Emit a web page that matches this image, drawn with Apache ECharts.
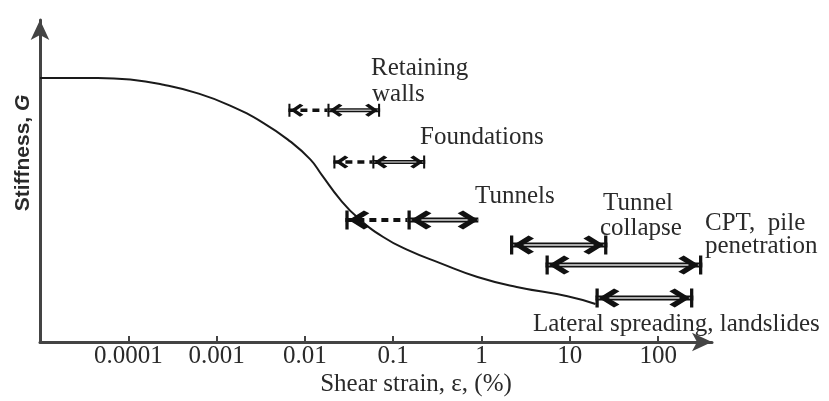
<!DOCTYPE html>
<html>
<head>
<meta charset="utf-8">
<script src="https://cdn.jsdelivr.net/npm/echarts@6/dist/echarts.min.js"></script>
<style>
  html, body { margin: 0; padding: 0; background: #fff; }
  #chart { width: 829px; height: 401px; }
</style>
</head>
<body>
<div id="chart"></div>
<script>
// ---- Data ----
// Stiffness curve (x = shear strain %, y = relative stiffness, arbitrary units 0-100)
const strain    = [1e-5, 4.5e-5, 1.05e-4, 2.5e-4, 6e-4, 1.4e-3, 3.4e-3, 6.8e-3, 0.0115, 0.0155, 0.025, 0.04, 0.077, 0.145, 0.34, 0.9, 2.5, 9.4, 19.5];
const stiffness = [82, 82, 81.5, 79.9, 77.3, 73.5, 68.0, 62.3, 56.7, 51.9, 44.3, 38.5, 32.6, 28.6, 24.5, 20.2, 17.1, 14.2, 11.8];

// Tick labels of the strain axis
const tickValues = [1e-4, 1e-3, 1e-2, 1e-1, 1, 10, 100];
const tickLabels = ['0.0001', '0.001', '0.01', '0.1', '1', '10', '100'];

// Strain ranges of applications
const rangeNames  = ['Retaining walls', 'Foundations', 'Tunnels', 'Tunnel collapse', 'CPT, pile penetration', 'Lateral spreading, landslides'];
const rangeLevel  = [72.0, 55.9, 37.9, 30.1, 23.9, 13.7];
const dashedFrom  = [0.0065, 0.021, 0.0287, null, null, null];
const solidFrom   = [0.018, 0.058, 0.145, 2.1, 5.3, 19.5];
const solidTo     = [0.071, 0.23, 0.92, 26.6, 316, 250];

// ---- Styles ----
const LEFT_CAP   = 'path://M0,0 H3 V20 H0 Z M17,0 L3,10 L17,20 L22,17 L12,10 L22,3 Z';
const RIGHT_CAP  = 'path://M19,0 H22 V20 H19 Z M5,0 L19,10 L5,20 L0,17 L10,10 L0,3 Z';
const RIGHT_HEAD = 'path://M5,0 L19,10 L5,20 L0,17 L10,10 L0,3 Z';
const rightBar   = [true, true, false, true, true, true];
const bigArrow   = [false, false, true, true, true, true];

const SERIF = '"Liberation Serif", "Times New Roman", serif';
const TXT = '#2a2a2a';

const series = [];
series.push({
  type: 'line',
  data: strain.map((s, i) => [s, stiffness[i]]),
  smooth: 0.5,
  showSymbol: false,
  lineStyle: { color: '#1a1a1a', width: 2 },
  silent: true,
  z: 2
});

rangeNames.forEach((name, i) => {
  const y = rangeLevel[i];
  const big = bigArrow[i];
  const hw = big ? 24 : 15, hh = big ? 19 : 13;
  const leftSym = (x) => ({ value: [x, y], symbol: LEFT_CAP, symbolSize: [hw, hh], symbolOffset: [hw / 2, 0] });
  if (dashedFrom[i] != null) {
    series.push({
      type: 'line',
      data: [leftSym(dashedFrom[i]), { value: [solidFrom[i], y], symbol: 'none' }],
      lineStyle: { color: '#111', width: big ? 4 : 3.5, type: [7, 5] },
      itemStyle: { color: '#111', borderWidth: 0 },
      showSymbol: true, silent: true, z: 3
    });
  }
  // outline of the shaft
  series.push({
    type: 'line',
    data: [[solidFrom[i], y], [solidTo[i], y]],
    lineStyle: { color: '#111', width: big ? 5 : 4 },
    showSymbol: false, silent: true, z: 3
  });
  const rw = rightBar[i] ? hw : hw * 19 / 22;
  series.push({
    type: 'line',
    data: [
      leftSym(solidFrom[i]),
      { value: [solidTo[i], y], symbol: rightBar[i] ? RIGHT_CAP : RIGHT_HEAD,
        symbolSize: [rw, hh], symbolOffset: [-rw / 2, 0] }
    ],
    lineStyle: { color: '#aaaaaa', width: big ? 2 : 1.5 },
    itemStyle: { color: '#111', borderWidth: 0 },
    showSymbol: true, silent: true, z: 4
  });
});

function txt(text, x, y, align) {
  return {
    type: 'text', x: x, y: y, silent: true,
    style: { text: text, font: '25px ' + SERIF, fill: TXT, align: align || 'left', verticalAlign: 'middle' }
  };
}

const option = {
  animation: false,
  backgroundColor: '#fff',
  grid: { left: 40, right: 117, top: 20, bottom: 59, containLabel: false },
  xAxis: {
    type: 'log',
    logBase: 10,
    min: 1e-5,
    max: 407,
    splitNumber: 8,
    axisLine: { show: true, symbol: ['none', 'arrow'], symbolSize: [14, 20], lineStyle: { color: '#444', width: 3 } },
    axisTick: { show: true, inside: true, length: 6, customValues: tickValues, lineStyle: { color: '#444', width: 2 } },
    axisLabel: {
      show: true, customValues: tickValues, margin: 2,
      formatter: (v) => { const k = tickValues.findIndex(t => Math.abs(Math.log10(t) - Math.log10(v)) < 1e-6); return k >= 0 ? tickLabels[k] : ''; },
      fontFamily: SERIF, fontSize: 25, color: TXT
    },
    splitLine: { show: false }
  },
  yAxis: {
    type: 'value', min: 0, max: 100,
    axisLine: { show: true, symbol: ['none', 'arrow'], symbolSize: [14, 20], lineStyle: { color: '#444', width: 3 } },
    axisTick: { show: false }, axisLabel: { show: false }, splitLine: { show: false }
  },
  graphic: [
    txt('Retaining', 371, 68),
    txt('walls', 372, 94),
    txt('Foundations', 420, 137),
    txt('Tunnels', 475, 196),
    txt('Tunnel', 603, 203),
    txt('collapse', 600, 228),
    txt('CPT,  pile', 705, 223),
    txt('penetration', 705, 246),
    txt('Lateral spreading, landslides', 533, 324),
    txt('Shear strain, ε, (%)', 416, 384, 'center'),
    {
      type: 'text', x: 23, y: 153, rotation: Math.PI / 2, silent: true,
      style: {
        text: 'Stiffness, {g|G}', font: 'bold 21px "Liberation Sans", Arial, sans-serif', fill: TXT,
        align: 'center', verticalAlign: 'middle',
        rich: { g: { fontStyle: 'italic', fontWeight: 'bold', fontSize: 21, fontFamily: '"Liberation Sans", Arial, sans-serif', fill: TXT } }
      }
    }
  ],
  series: series
};

const chart = echarts.init(document.getElementById('chart'), null, { renderer: 'canvas' });
chart.setOption(option);
</script>
</body>
</html>
